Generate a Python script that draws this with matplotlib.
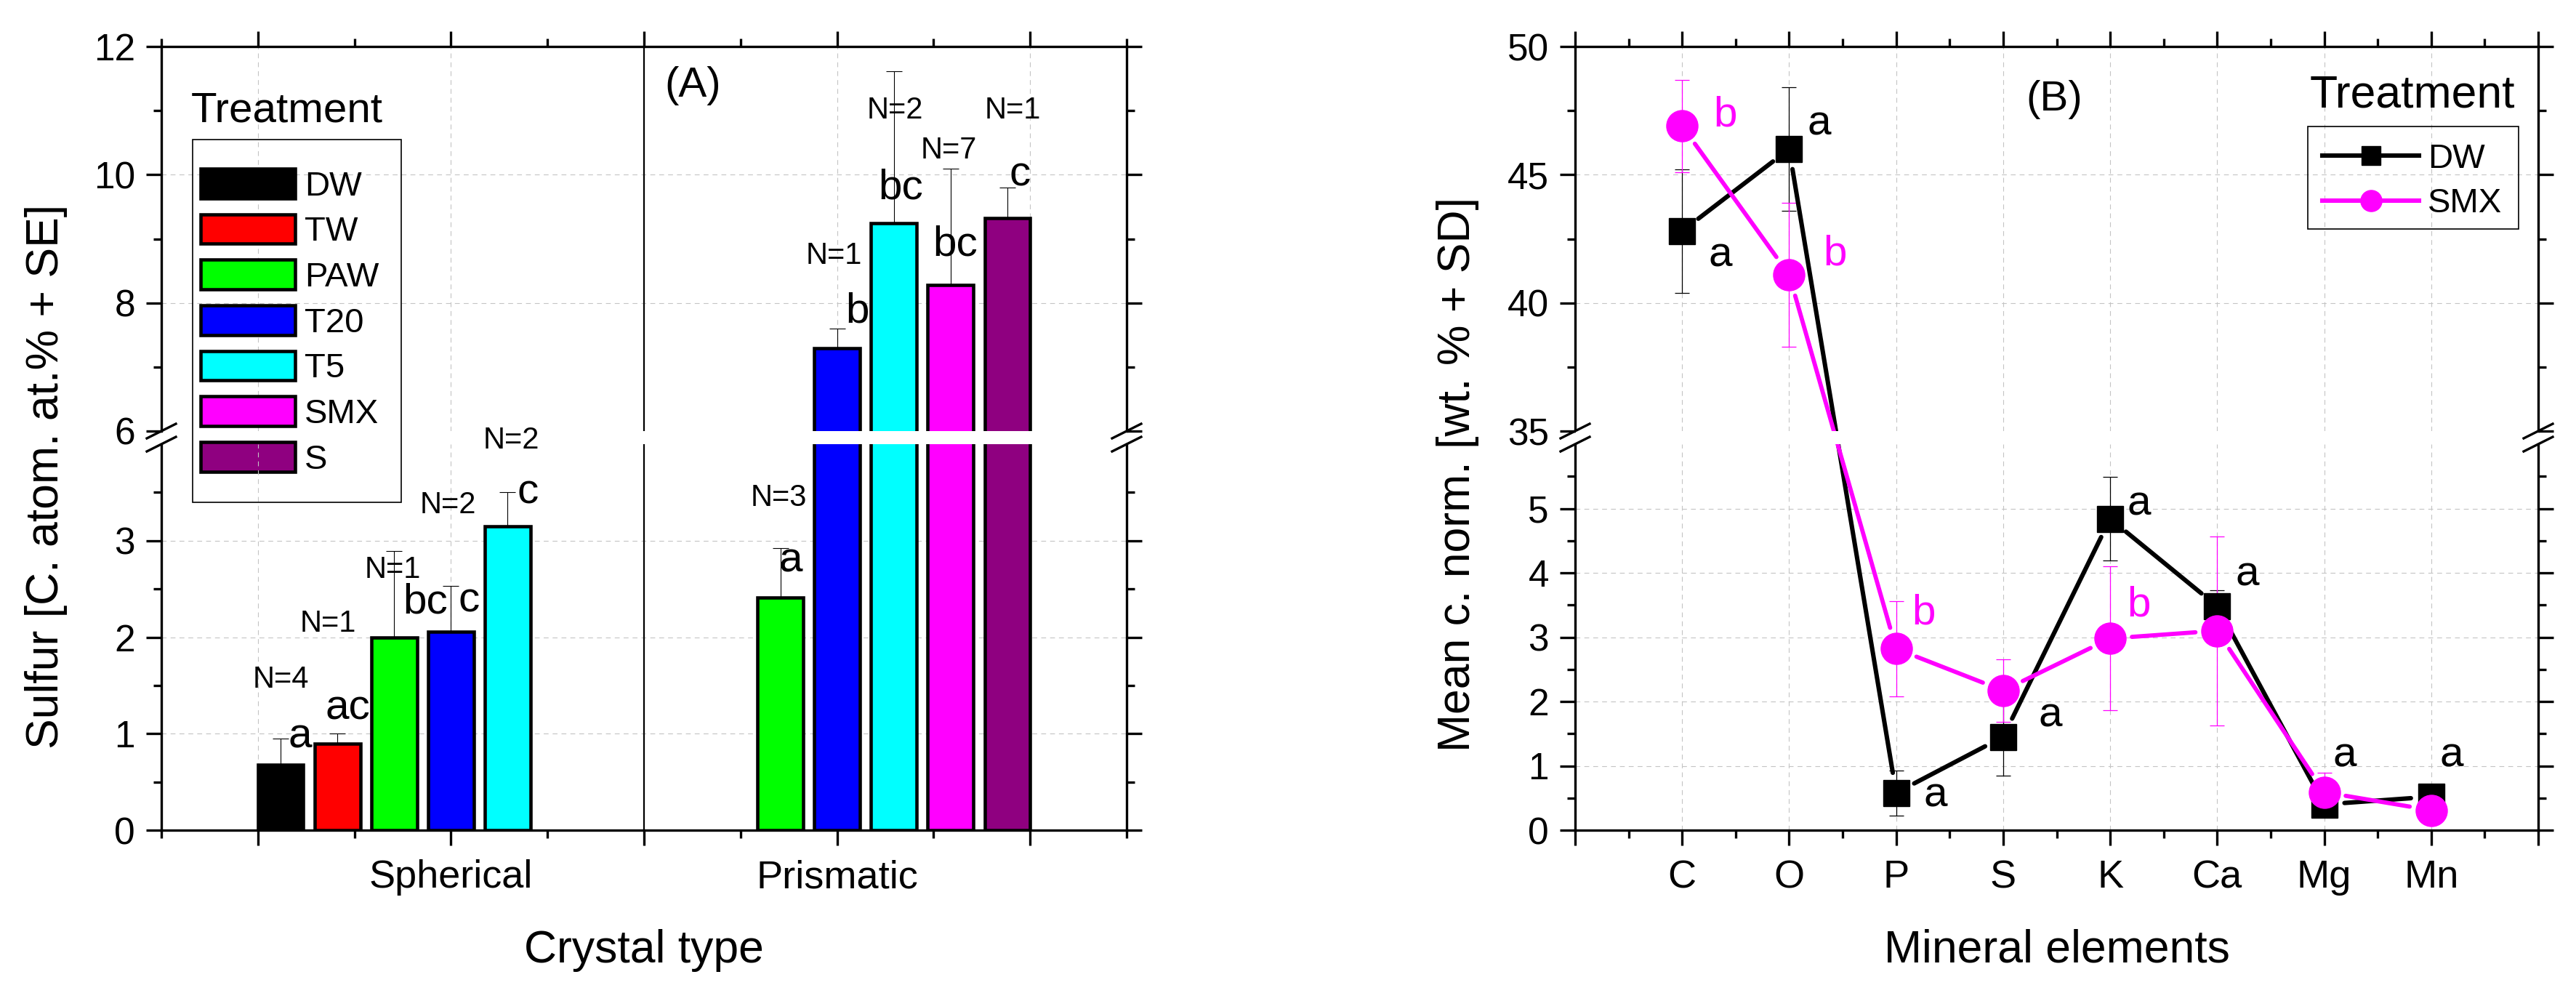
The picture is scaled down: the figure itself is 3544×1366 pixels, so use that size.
import numpy as np
import matplotlib
matplotlib.use("Agg")
import matplotlib.pyplot as plt
from matplotlib.lines import Line2D
from matplotlib.patches import Patch, Rectangle

plt.rcParams["font.family"] = ["Liberation Sans", "DejaVu Sans"]

# ── data: panel (A) sulfur per crystal type ──────────────────────────────────
treatments = ["DW", "TW", "PAW", "T20", "T5", "SMX", "S"]
bar_colors = ["#000000", "#FF0000", "#00FF00", "#0000FF", "#00FFFF", "#FF00FF", "#8F0080"]
crystal_types = ["Spherical", "Prismatic"]
spherical_mean = [0.68, 0.90, 2.00, 2.06, 3.15, np.nan, np.nan]
spherical_se = [0.27, 0.10, 0.89, 0.47, 0.35, np.nan, np.nan]
prismatic_mean = [np.nan, np.nan, 2.41, 7.29, 9.24, 8.28, 9.32]
prismatic_se = [np.nan, np.nan, 0.51, 0.31, 2.37, 1.82, 0.48]

# sample sizes / letters of panel (A), placed by hand in the original
a_note_text = ["N=4", "a", "N=1", "ac", "N=1", "bc", "N=2", "c", "N=2", "c",
               "N=3", "a", "N=1", "b", "N=2", "bc", "N=7", "bc", "N=1", "c"]
a_note_x = [0.560, 0.609, 0.682, 0.733, 0.850, 0.934, 0.992, 1.047, 1.156, 1.199,
            1.848, 1.880, 1.991, 2.053, 2.150, 2.165, 2.290, 2.306, 2.455, 2.474]
a_note_y = [1.56, 0.97, 2.14, 1.26, 2.70, 2.36, 3.37, 2.38, 4.04, 3.50,
            3.44, 2.79, 8.73, 7.87, 11.0, 9.79, 10.38, 8.91, 11.0, 10.0]

# ── data: panel (B) mineral elements ─────────────────────────────────────────
elements = ["C", "O", "P", "S", "K", "Ca", "Mg", "Mn"]
dw_mean = [42.8, 46.0, 0.58, 1.45, 4.84, 3.48, 0.40, 0.52]
dw_sd = [2.4, 2.4, 0.35, 0.60, 0.65, 0.25, 0.08, 0.04]
smx_mean = [46.9, 41.1, 2.82, 2.17, 2.98, 3.10, 0.59, 0.31]
smx_sd = [1.8, 2.8, 0.74, 0.49, 1.12, 1.47, 0.30, 0.03]

b_note_text = ["a", "b", "a", "b", "b", "a", "a", "a", "b", "a", "a", "a"]
b_note_x = [1.357, 1.40, 2.28, 2.43, 3.26, 3.37, 4.44, 5.27, 5.27, 6.28, 7.19, 8.19]
b_note_y = [41.84, 47.33, 46.97, 41.91, 3.37, 0.54, 1.78, 5.07, 3.50, 3.97, 1.16, 1.16]
b_note_color = ["k", "#FF00FF", "k", "#FF00FF", "#FF00FF", "k", "k", "k", "#FF00FF", "k", "k", "k"]

MAGENTA = "#FF00FF"
W, H, DPI = 3544, 1366, 100

fig = plt.figure(figsize=(W / DPI, H / DPI), dpi=DPI, facecolor="white")


def fx(x):
    return x / W


def fy(y):
    return 1 - y / H


def box(x0, y0, x1, y1):
    return [fx(x0), fy(y1), (x1 - x0) / W, (y1 - y0) / H]


def style_pair(up, lo, xgrid, ygrid_up, ygrid_lo):
    for ax in (up, lo):
        ax.set_facecolor("none")
        for s in ax.spines.values():
            s.set_linewidth(2.4)
        ax.tick_params(which="both", direction="out", width=2.4, left=True, right=True)
        ax.tick_params(which="major", length=15)
        ax.tick_params(which="minor", length=8)
        ax.tick_params(axis="y", labelsize=37, pad=11)
        for v in xgrid:
            ax.axvline(v, color="#c4c4c4", lw=0.8, ls=(0, (6, 5)), zorder=0.5)
    for v in ygrid_up:
        up.axhline(v, color="#c4c4c4", lw=0.8, ls=(0, (6, 5)), zorder=0.5)
    for v in ygrid_lo:
        lo.axhline(v, color="#c4c4c4", lw=0.8, ls=(0, (6, 5)), zorder=0.5)
    up.spines["bottom"].set_visible(False)
    lo.spines["top"].set_visible(False)
    up.tick_params(axis="x", which="both", bottom=False, top=True, labelbottom=False)
    lo.tick_params(axis="x", which="both", bottom=True, top=False, labelsize=39, pad=14)


def break_marks(x0, x1, y_up, y_lo):
    for x in (x0, x1):
        for y in (y_up, y_lo):
            fig.add_artist(Line2D([fx(x - 20), fx(x + 20)], [fy(y + 10), fy(y - 10)],
                                  color="k", lw=2.4, transform=fig.transFigure, zorder=10))


# ── panel (A): broken bar chart ──────────────────────────────────────────────
A_up = fig.add_axes(box(222, 64, 1550, 593))
A_lo = fig.add_axes(box(222, 611, 1550, 1142))
style_pair(A_up, A_lo, [0.5, 1.0, 2.0, 2.5], [8, 10], [1, 2, 3])

pitch, width = 0.147, 0.118
group_x = np.arange(1, len(crystal_types) + 1)
for ax in (A_up, A_lo):
    for i, (t, c) in enumerate(zip(treatments, bar_colors)):
        xs = group_x + (i - 3) * pitch
        vals = np.array([spherical_mean[i], prismatic_mean[i]])
        errs = np.array([spherical_se[i], prismatic_se[i]])
        ok = ~np.isnan(vals)
        ax.bar(xs[ok], vals[ok], width=width, color=c, edgecolor="k", linewidth=3.3, zorder=3)
        ax.errorbar(xs[ok], vals[ok], yerr=[np.zeros(ok.sum()), errs[ok]], fmt="none",
                    ecolor="k", elinewidth=0.8, capsize=8, capthick=0.8, zorder=2.5)
    ax.axvline(1.5, color="k", lw=1.6, zorder=1)
    ax.set_xlim(0.25, 2.75)
    ax.set_xticks([0.5, 1.0, 1.5, 2.0, 2.5])
    ax.set_xticks(np.arange(0.25, 2.8, 0.5), minor=True)

A_lo.set_xticklabels(["", crystal_types[0], "", crystal_types[1], ""])
A_up.set_ylim(6, 12)
A_up.set_yticks([6, 8, 10, 12])
A_up.set_yticks([7, 9, 11], minor=True)
A_lo.set_ylim(0, 4)
A_lo.set_yticks([0, 1, 2, 3])
A_lo.set_yticks([0.5, 1.5, 2.5, 3.5], minor=True)

for t, x, y in zip(a_note_text, a_note_x, a_note_y):
    ax = A_up if y >= 5 else A_lo
    ax.text(x, y, t, fontsize=30 if t.startswith("N=") else 42,
            ha="center", va="center", zorder=2, clip_on=False)

A_up.text(1.626, 11.39, "(A)", fontsize=42, ha="center", va="center")

A_up.legend(handles=[Patch(facecolor=c, edgecolor="k", linewidth=3.3, label=t)
                     for t, c in zip(treatments, bar_colors)],
            loc="upper left", bbox_to_anchor=(fx(276), fy(232)), bbox_transform=fig.transFigure,
            frameon=False, fontsize=34, handlelength=2.75, handleheight=0.95,
            labelspacing=0.34, handletextpad=0.28, borderpad=0, borderaxespad=0)
fig.add_artist(Rectangle((fx(265), fy(691)), (552 - 265) / W, (691 - 192) / H, fill=False,
                         edgecolor="k", lw=1.2, transform=fig.transFigure, zorder=9))
fig.text(fx(263), fy(167), "Treatment", fontsize=42, va="baseline")
break_marks(222, 1550, 593, 611)

fig.text(fx(64), fy(655), "Sulfur [C. atom. at.% + SE]", fontsize=45, rotation=90,
         ha="center", va="center")
fig.text(fx(886), fy(1324), "Crystal type", fontsize=45, ha="center", va="baseline")

# ── panel (B): broken line chart ─────────────────────────────────────────────
B_up = fig.add_axes(box(2167, 64, 3492, 593))
B_lo = fig.add_axes(box(2167, 611, 3492, 1142))
style_pair(B_up, B_lo, range(1, 9), [40, 45], [1, 2, 3, 4, 5])

xe = np.arange(1, len(elements) + 1)
for ax in (B_up, B_lo):
    ax.errorbar(xe, dw_mean, yerr=dw_sd, fmt="none", ecolor="k", elinewidth=0.9,
                capsize=7.5, capthick=0.9, zorder=2.5)
    ax.errorbar(xe, smx_mean, yerr=smx_sd, fmt="none", ecolor=MAGENTA, elinewidth=0.9,
                capsize=7.5, capthick=0.9, zorder=2.6)
    ax.plot(xe, dw_mean, ls="none", marker="s", ms=26, color="k", zorder=4)
    ax.plot(xe, smx_mean, ls="none", marker="o", ms=31, color=MAGENTA, zorder=5)
    ax.set_xlim(0, 9)
    ax.set_xticks(range(0, 10))
    ax.set_xticks(np.arange(0.5, 9, 1.0), minor=True)

B_lo.set_xticklabels([""] + elements + [""])
B_up.set_ylim(35, 50)
B_up.set_yticks([35, 40, 45, 50])
B_up.set_yticks([37.5, 42.5, 47.5], minor=True)
B_lo.set_ylim(0, 6)
B_lo.set_yticks([0, 1, 2, 3, 4, 5])
B_lo.set_yticks(np.arange(0.5, 6, 1.0), minor=True)

# connecting lines run straight across the break, stopping short of the symbols
inv = fig.transFigure.inverted()
for means, color, lw, gap in ((dw_mean, "k", 4.4, 28), (smx_mean, MAGENTA, 4.2, 30)):
    pts = np.array([(B_up if m >= 20 else B_lo).transData.transform((x, m))
                    for x, m in zip(xe, means)])
    for p, q in zip(pts[:-1], pts[1:]):
        u = (q - p) / np.hypot(*(q - p))
        a, b = inv.transform([p + u * gap, q - u * gap])
        B_lo.add_line(Line2D([a[0], b[0]], [a[1], b[1]], color=color, lw=lw,
                             solid_capstyle="round", transform=fig.transFigure,
                             clip_on=False, zorder=2))
B_lo.add_patch(Rectangle((fx(2168), fy(611)), (3491 - 2168) / W, 18 / H, facecolor="white",
                         edgecolor="none", transform=fig.transFigure, clip_on=False, zorder=6))
B_lo.set_xlim(0, 9)
B_lo.set_ylim(0, 6)

for t, x, y, c in zip(b_note_text, b_note_x, b_note_y, b_note_color):
    ax = B_up if y >= 20 else B_lo
    ax.text(x, y, t, fontsize=42, color=c, ha="center", va="center", zorder=6, clip_on=False)

B_up.text(4.48, 47.93, "(B)", fontsize=42, ha="center", va="center")

B_up.legend(handles=[Line2D([], [], color="k", lw=4.4, marker="s", ms=19, label="DW"),
                     Line2D([], [], color=MAGENTA, lw=4.4, marker="o", ms=21, label="SMX")],
            loc="upper left", bbox_to_anchor=(fx(3195), fy(197)), bbox_transform=fig.transFigure,
            frameon=False, fontsize=34, handlelength=2.82, labelspacing=0.37,
            handletextpad=0.25, borderpad=0, borderaxespad=0)
fig.add_artist(Rectangle((fx(3175), fy(315)), (3465 - 3175) / W, (315 - 174.5) / H, fill=False,
                         edgecolor="k", lw=1.2, transform=fig.transFigure, zorder=9))
fig.text(fx(3178), fy(148), "Treatment", fontsize=45, va="baseline")
break_marks(2167, 3492, 593, 611)

fig.text(fx(2005), fy(652), "Mean c. norm. [wt. % + SD]", fontsize=45, rotation=90,
         ha="center", va="center")
fig.text(fx(2829.5), fy(1323), "Mineral elements", fontsize=45, ha="center", va="baseline")

fig.savefig("out.png", dpi=DPI, facecolor="white")
